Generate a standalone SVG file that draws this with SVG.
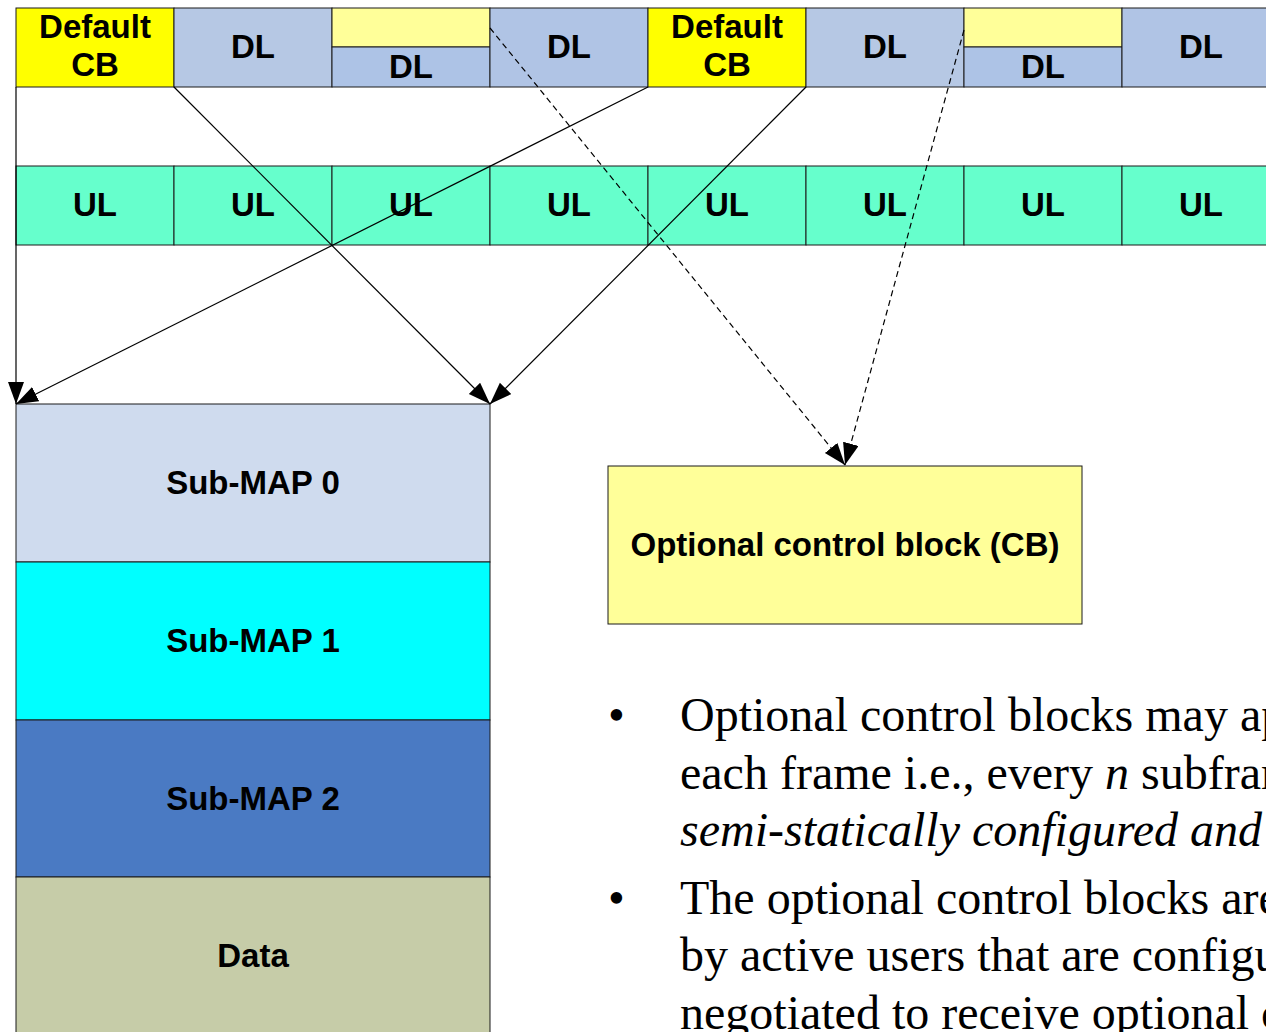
<svg xmlns="http://www.w3.org/2000/svg" width="1266" height="1032" viewBox="0 0 1266 1032">
<style>
.c{stroke:#1a1a1a;stroke-width:1}
.b{font-family:"Liberation Sans",Arial,sans-serif;font-weight:bold;font-size:33px;text-anchor:middle;fill:#000}
.t{font-family:"Liberation Serif","Times New Roman",serif;font-size:48px;fill:#000}
.ln{stroke:#000;stroke-width:1.2;fill:none}
.dash{stroke-dasharray:6 4}
</style>
<defs>
<marker id="ah" markerUnits="userSpaceOnUse" markerWidth="24" markerHeight="18" refX="22" refY="8" orient="auto">
<path d="M0,0 L22,8 L0,16 z" fill="#000"/>
</marker>
</defs>
<rect width="1266" height="1032" fill="#fff"/>
<g id="dl-row">
<g id="cb1"><rect class="c" x="16" y="8" width="158" height="79" fill="#FFFF00"/><text class="b" x="95" y="38">Default</text><text class="b" x="95" y="76">CB</text></g>
<g id="dl1"><rect class="c" x="174" y="8" width="158" height="79" fill="#B6C8E4"/><text class="b" x="253" y="58">DL</text></g>
<g id="dl2"><rect class="c" x="332" y="8" width="158" height="39" fill="#FFFF99"/><rect class="c" x="332" y="47" width="158" height="40" fill="#ADC3E6"/><text class="b" x="411" y="78">DL</text></g>
<g id="dl3"><rect class="c" x="490" y="8" width="158" height="79" fill="#B0C4E5"/><text class="b" x="569" y="58">DL</text></g>
<g id="cb2"><rect class="c" x="648" y="8" width="158" height="79" fill="#FFFF00"/><text class="b" x="727" y="38">Default</text><text class="b" x="727" y="76">CB</text></g>
<g id="dl4"><rect class="c" x="806" y="8" width="158" height="79" fill="#B6C8E4"/><text class="b" x="885" y="58">DL</text></g>
<g id="dl5"><rect class="c" x="964" y="8" width="158" height="39" fill="#FFFF99"/><rect class="c" x="964" y="47" width="158" height="40" fill="#ADC3E6"/><text class="b" x="1043" y="78">DL</text></g>
<g id="dl6"><rect class="c" x="1122" y="8" width="170" height="79" fill="#B0C4E5"/><text class="b" x="1201" y="58">DL</text></g>
</g>
<g id="ul-row">
<g id="ul1"><rect class="c" x="16" y="166" width="158" height="79" fill="#66FFCC"/><text class="b" x="95" y="216">UL</text></g>
<g id="ul2"><rect class="c" x="174" y="166" width="158" height="79" fill="#66FFCC"/><text class="b" x="253" y="216">UL</text></g>
<g id="ul3"><rect class="c" x="332" y="166" width="158" height="79" fill="#66FFCC"/><text class="b" x="411" y="216">UL</text></g>
<g id="ul4"><rect class="c" x="490" y="166" width="158" height="79" fill="#66FFCC"/><text class="b" x="569" y="216">UL</text></g>
<g id="ul5"><rect class="c" x="648" y="166" width="158" height="79" fill="#66FFCC"/><text class="b" x="727" y="216">UL</text></g>
<g id="ul6"><rect class="c" x="806" y="166" width="158" height="79" fill="#66FFCC"/><text class="b" x="885" y="216">UL</text></g>
<g id="ul7"><rect class="c" x="964" y="166" width="158" height="79" fill="#66FFCC"/><text class="b" x="1043" y="216">UL</text></g>
<g id="ul8"><rect class="c" x="1122" y="166" width="170" height="79" fill="#66FFCC"/><text class="b" x="1201" y="216">UL</text></g>
</g>
<g id="map">
<g id="submap0"><rect class="c" x="16" y="404" width="474" height="158" fill="#CFDBEE"/><text class="b" x="253" y="494">Sub-MAP 0</text></g>
<g id="submap1"><rect class="c" x="16" y="562" width="474" height="158" fill="#00FFFF"/><text class="b" x="253" y="652">Sub-MAP 1</text></g>
<g id="submap2"><rect class="c" x="16" y="720" width="474" height="157" fill="#4A7AC3"/><text class="b" x="253" y="810">Sub-MAP 2</text></g>
<g id="data"><rect class="c" x="16" y="877" width="474" height="170" fill="#C6CCA8"/><text class="b" x="253" y="967">Data</text></g>
</g>
<g id="optcb"><rect class="c" x="608" y="466" width="474" height="158" fill="#FFFF99"/><text class="b" x="845" y="556">Optional control block (CB)</text></g>
<g id="connectors">
<line class="ln" x1="16" y1="87" x2="16" y2="404" marker-end="url(#ah)"/>
<line class="ln" x1="174" y1="87" x2="490" y2="404" marker-end="url(#ah)"/>
<line class="ln" x1="648" y1="87" x2="16" y2="404" marker-end="url(#ah)"/>
<line class="ln" x1="806" y1="87" x2="490" y2="404" marker-end="url(#ah)"/>
<line class="ln dash" x1="490" y1="28" x2="845" y2="465" marker-end="url(#ah)"/>
<line class="ln dash" x1="964" y1="30" x2="845" y2="465" marker-end="url(#ah)"/>
</g>
<g id="bullets">
<text class="t" x="608" y="731">•</text>
<text class="t" x="680" y="731">Optional control blocks may ap</text>
<text class="t" x="680" y="789">each frame i.e., every <tspan font-style="italic">n</tspan> subfram</text>
<text class="t" x="680" y="846" font-style="italic">semi-statically configured and</text>
<text class="t" x="608" y="914">•</text>
<text class="t" x="680" y="914">The optional control blocks are</text>
<text class="t" x="680" y="971">by active users that are configu</text>
<text class="t" x="680" y="1029">negotiated to receive optional c</text>
</g>
</svg>
